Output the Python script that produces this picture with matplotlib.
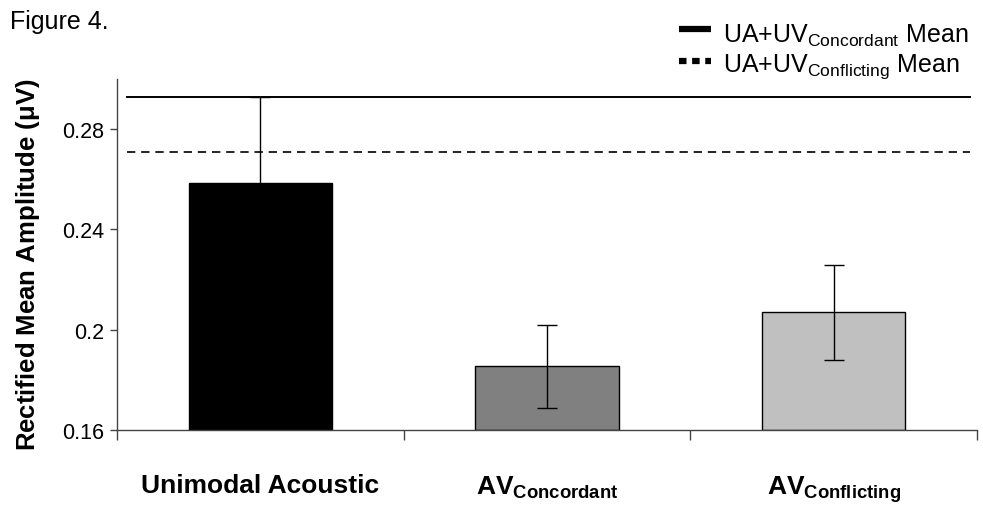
import matplotlib
matplotlib.use('Agg')
import matplotlib.pyplot as plt
from matplotlib.lines import Line2D

plt.rcParams['font.family'] = ['Liberation Sans', 'DejaVu Sans']
plt.rcParams['mathtext.fontset'] = 'custom'
plt.rcParams['mathtext.rm'] = 'Liberation Sans'
plt.rcParams['mathtext.bf'] = 'Liberation Sans:bold'

# Rectified mean amplitude per condition (uV) with error bars
conditions = ['Unimodal Acoustic',
              r'AV$_{\mathbf{Concordant}}$',
              r'AV$_{\mathbf{Conflicting}}$']
means = [0.2585, 0.1854, 0.2069]
errors = [0.0342, 0.0164, 0.0190]
bar_colors = ['#000000', '#808080', '#c0c0c0']

# Summed unimodal (UA+UV) reference means
sum_concordant = 0.2927
sum_conflicting = 0.2708

yticks = [0.16, 0.2, 0.24, 0.28]
ytick_labels = ['0.16', '0.2', '0.24', '0.28']

fig = plt.figure(figsize=(9.83, 5.06), dpi=100)
ax = fig.add_axes([0.119, 0.148, 0.875, 0.694])

x = list(range(len(conditions)))
ax.bar(x, [m - 0.16 for m in means], bottom=0.16, width=0.5,
       color=bar_colors, edgecolor='black', linewidth=1.0, zorder=2)
ax.errorbar(x, means, yerr=errors, fmt='none', ecolor='black',
            elinewidth=1.0, capsize=7, capthick=1.0, zorder=3)

ax.axhline(sum_concordant, xmin=0.012, xmax=0.992, color='black', lw=1.4, zorder=4)
ax.axhline(sum_conflicting, xmin=0.012, xmax=0.992, color='black', lw=1.2,
           dashes=(5, 3.5), zorder=4)

ax.set_xlim(-0.5, 2.5)
ax.set_ylim(0.16, 0.30)
ax.set_yticks(yticks)
ax.set_yticklabels(ytick_labels, fontsize=15.5)

# category boundaries carry the tick marks, names sit between them
ax.set_xticks([-0.5, 0.5, 1.5, 2.5])
ax.set_xticklabels([])
ax.set_xticks(x, minor=True)
ax.set_xticklabels(conditions, minor=True, fontsize=19, fontweight='bold')
ax.tick_params(axis='x', which='major', direction='out', length=7, width=1, color='#444444')
ax.tick_params(axis='x', which='minor', length=0, pad=31)
ax.tick_params(axis='y', direction='out', length=5, width=1, color='#444444', pad=4)

for side in ['top', 'right']:
    ax.spines[side].set_visible(False)
for side in ['left', 'bottom']:
    ax.spines[side].set_color('#444444')
    ax.spines[side].set_linewidth(1.0)

ax.set_ylabel(r'Rectified Mean Amplitude ($\mathbf{\mu}$V)', fontsize=18.5,
              fontweight='bold')
ax.yaxis.set_label_coords(-0.087, 0.475)

fig.text(10 / 983, 1 - 29 / 506, 'Figure 4.', fontsize=18, va='baseline', ha='left')

# key for the two reference lines
fig.add_artist(Line2D([679 / 983, 711 / 983], [1 - 30 / 506, 1 - 30 / 506],
                      color='black', lw=4.5, solid_capstyle='butt'))
fig.add_artist(Line2D([679 / 983, 711 / 983], [1 - 62 / 506, 1 - 62 / 506],
                      color='black', lw=4.5, dashes=(1.2, 0.9)))
fig.text(723 / 983, 1 - 43 / 506, r'UA+UV$_{\mathrm{Concordant}}$ Mean',
         fontsize=18, va='baseline', ha='left')
fig.text(723 / 983, 1 - 72 / 506, r'UA+UV$_{\mathrm{Conflicting}}$ Mean',
         fontsize=18, va='baseline', ha='left')

fig.savefig('out.png', dpi=100)
